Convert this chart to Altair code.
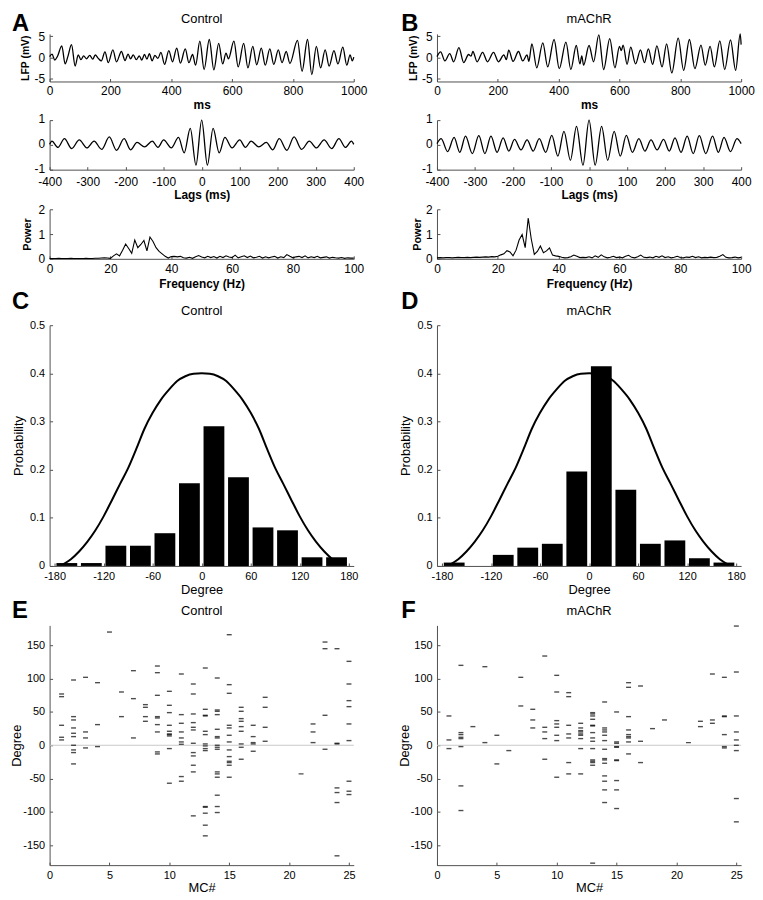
import altair as alt
import pandas as pd

FONT = "Liberation Sans"
AXC = "#505050"

# ---------------- data ----------------
# LFP traces (extrema, ms / mV)
ctrl_lfp_ms = [0, 8, 17, 26, 40, 51, 60, 72, 84, 94,
               103, 112, 121, 132, 142, 150, 160, 170, 182, 193,
               208, 220, 236, 248, 258, 266, 275, 285, 295, 303,
               312, 320, 328, 337, 346, 356, 366, 378, 392, 404,
               418, 430, 446, 458, 470, 480, 494, 508, 525, 540,
               556, 569, 580, 588, 606, 620, 638, 652, 668, 681,
               696, 709, 724, 737, 752, 764, 778, 790, 815, 830,
               848, 862, 877, 891, 906, 919, 935, 948, 964, 977,
               988, 995, 1000]
ctrl_lfp_mv = [0.2, 0.8, -0.6, 0.3, 2.7, -1.5, 0.2, 3.0, -2.0, 0.6,
               -0.5, 0.4, -0.3, 0.5, -0.4, 0.6, -0.2, -0.8, 1.3, -1.2,
               1.8, -1.0, 1.4, -0.7, 0.8, -0.3, 0.6, -0.5, 0.4, -0.6,
               0.7, -0.4, 0.9, -0.8, 0.5, -0.2, 1.2, -1.6, 1.6, -1.0,
               2.2, -1.3, 2.0, -1.2, 0.7, -1.8, 3.8, -2.8, 4.2, -2.9,
               3.3, -1.5, 1.0, -0.3, 3.8, -2.2, 3.3, -2.4, 2.6, -1.7,
               2.2, -1.8, 2.0, -1.6, 1.8, -1.2, 1.4, -1.4, 4.0, -3.2,
               4.2, -4.0, 2.6, -2.4, 1.8, -2.0, 1.6, -1.5, 2.4, -1.8,
               0.6, -0.8, 0.1]

machr_lfp_ms = [0, 12, 26, 42, 55, 72, 88, 104, 112, 118,
                132, 150, 166, 186, 202, 220, 228, 236, 250, 268,
                282, 296, 302, 312, 328, 348, 364, 385, 402, 424,
                440, 458, 470, 476, 482, 500, 515, 532, 548, 568,
                585, 600, 606, 612, 625, 637, 653, 669, 682, 695,
                709, 723, 740, 755, 772, 793, 811, 830, 848, 868,
                882, 898, 912, 930, 946, 965, 982, 997, 1000]
machr_lfp_mv = [0.2, 1.3, -0.8, 0.9, -1.0, 2.3, -1.2, 0.7, 0.3, 1.4,
                -1.0, 1.2, -1.0, 1.2, -1.0, 0.6, -0.5, 1.7, -0.9, 1.4,
                -0.8, 0.6, -0.9, 3.2, -2.4, 3.4, -2.2, 4.2, -2.6, 3.6,
                -2.8, 2.8, -1.5, 0.4, -1.8, 2.8, -1.0, 5.3, -2.8, 4.4,
                -2.4, 2.6, 1.6, 2.9, -1.6, 2.4, -1.5, 1.8, -1.2, 2.0,
                -1.6, 2.7, -2.2, 3.2, -3.6, 4.5, -3.0, 4.2, -2.6, 2.9,
                -1.8, 2.6, -2.2, 3.9, -2.8, 4.1, -3.0, 5.5, 3.0]

# autocorrelation, positive lags (the function is symmetric)
ctrl_lag_ms = [0, 15, 30, 46, 61, 80, 100, 115, 130, 150, 170, 187, 204,
               224, 243, 263, 283, 302, 322, 342, 361, 378, 394, 400]
ctrl_acf = [1.0, -0.82, 0.67, -0.32, 0.3, -0.12, 0.2, -0.1, 0.15, -0.08,
            0.1, -0.2, 0.25, -0.22, 0.32, -0.18, 0.15, -0.12, 0.2, -0.15,
            0.25, -0.1, 0.15, 0.02]
machr_lag_ms = [0, 16, 33, 49, 66, 82, 98, 114, 131, 147, 163, 179, 196,
                211, 226, 242, 258, 274, 290, 307, 325, 340, 355, 372, 389, 400]
machr_acf = [1.0, -0.82, 0.75, -0.62, 0.55, -0.45, 0.38, -0.3, 0.25, -0.25,
             0.2, -0.2, 0.22, -0.25, 0.28, -0.3, 0.35, -0.35, 0.37, -0.35,
             0.35, -0.3, 0.3, -0.27, 0.25, 0.05]

# power spectra, 0..100 Hz
freq_hz = list(range(0, 101))
ctrl_power = [0.01, 0.01, 0.01, 0.02, 0.01, 0.01, 0.01, 0.02, 0.01, 0.01,
              0.01, 0.01, 0.02, 0.01, 0.01, 0.02, 0.02, 0.03, 0.04, 0.03,
              0.02, 0.12, 0.2, 0.12, 0.35, 0.6, 0.42, 0.22, 0.76, 0.45,
              0.58, 0.74, 0.32, 0.88, 0.7, 0.45, 0.3, 0.2, 0.1, 0.03,
              0.09, 0.1, 0.08, 0.1, 0.04, 0.03, 0.06, 0.02, 0.08, 0.13,
              0.07, 0.04, 0.1, 0.05, 0.09, 0.03, 0.1, 0.05, 0.12, 0.07,
              0.05, 0.15, 0.04, 0.08, 0.12, 0.05, 0.11, 0.04, 0.06, 0.1,
              0.03, 0.08, 0.04, 0.07, 0.1, 0.03, 0.08, 0.05, 0.17, 0.1,
              0.04, 0.08, 0.1, 0.05, 0.12, 0.04, 0.08, 0.05, 0.1, 0.04,
              0.06, 0.08, 0.03, 0.06, 0.04, 0.03, 0.05, 0.02, 0.04, 0.03,
              0.03]
machr_power = [0.04, 0.05, 0.04, 0.05, 0.05, 0.04, 0.05, 0.06, 0.05, 0.05,
               0.06, 0.05, 0.06, 0.07, 0.06, 0.07, 0.08, 0.07, 0.09, 0.08,
               0.1, 0.16, 0.2, 0.33, 0.28, 0.12, 0.35, 0.76, 0.98, 0.45,
               1.65, 0.8, 0.18, 0.3, 0.52, 0.25, 0.32, 0.44, 0.15, 0.12,
               0.1, 0.06, 0.04, 0.05, 0.08, 0.15, 0.1, 0.05, 0.06, 0.05,
               0.08, 0.04, 0.12, 0.06, 0.16, 0.08, 0.04, 0.06, 0.1, 0.05,
               0.07, 0.04, 0.1, 0.14, 0.06, 0.04, 0.08, 0.15, 0.06, 0.05,
               0.07, 0.04, 0.1, 0.06, 0.12, 0.05, 0.08, 0.04, 0.06, 0.1,
               0.05, 0.04, 0.07, 0.06, 0.1, 0.05, 0.08, 0.04, 0.06, 0.05,
               0.07, 0.05, 0.06, 0.1, 0.17, 0.06, 0.04, 0.05, 0.07, 0.04,
               0.06]

# phase histograms
bin_center_deg = [-165, -135, -105, -75, -45, -15, 15, 45, 75, 105, 135, 165]
ctrl_prob = [0.006, 0.006, 0.042, 0.042, 0.068, 0.172, 0.290, 0.184, 0.080, 0.074, 0.018, 0.018]
machr_prob = [0.007, 0.0, 0.023, 0.038, 0.046, 0.196, 0.415, 0.158, 0.046, 0.053, 0.016, 0.007]

curve_deg = [-170, -160, -150, -140, -130, -120, -110, -100, -90, -80, -70, -60,
             -50, -40, -30, -20, -10, 0, 10, 20, 30, 40, 50, 60, 70, 80, 90,
             100, 110, 120, 130, 140, 150, 160, 170]
curve_prob = [0.003, 0.014, 0.03, 0.05, 0.074, 0.103, 0.136, 0.17, 0.203, 0.243,
              0.285, 0.318, 0.345, 0.366, 0.384, 0.394, 0.399, 0.4, 0.399, 0.394,
              0.384, 0.366, 0.345, 0.318, 0.285, 0.243, 0.203, 0.17, 0.136, 0.103,
              0.074, 0.05, 0.03, 0.014, 0.003]

# preferred phase of each MC (degree)
ctrl_phase = {
    1: [77, 73, 30, 12, 8],
    2: [98, 43, 38, 26, 18, 13, 0, -7, -11, -28],
    3: [102, 20, 11, -4],
    4: [94, 31, -2],
    5: [170],
    6: [80, 43],
    7: [112, 70, 11],
    8: [61, 57, 43, 36],
    9: [119, 109, 75, 43, 41, 31, 20, -10, -13],
    10: [81, 60, 49, 30, 21, 17, 16, 14, -5, -57],
    11: [107, 46, 33, 20, 11, 5, 1.5, -47, -54],
    12: [92, 77, 47, 34, 27, 23, 3, -11, -16, -30, -40, -106],
    13: [116, 54, 45, 44, 21, 16, 2, -1, -5, -8, -92, -93, -102, -120, -136],
    14: [101, 53, 51, 46, 24, 13, 11, 0, -3, -6, -40, -43, -48, -75, -92, -101],
    15: [166, 91, 78, 30, 26, 15, 5, -7, -17, -24, -26, -30, -48],
    16: [57, 51, 40, 36, 28, 21, 2, -3, -21],
    17: [30, 13, 4, 2, -9],
    18: [72, 57, 27, 6],
    21: [-43],
    22: [32, 20, 4],
    23: [155, 145, 45, -6],
    24: [145, 3, 2, -64, -71, -86, -166],
    25: [126, 92, 67, 58, 32, 7, -54, -69, -74],
}
machr_phase = {
    1: [44, 8, -5],
    2: [120, 19, 16, 12, 10, -2, -61, -98],
    3: [28],
    4: [118, 4],
    5: [15, -28],
    6: [-8],
    7: [102, 59],
    8: [54, 38, 26],
    9: [134, 27, 20, 10, -21],
    10: [105, 80, 37, 32, 27, 15, 7, -48],
    11: [79, 73, 30, 17, 11, -26, -43],
    12: [33, 26, 22, 20, 17, 15, 10, -5, -43],
    13: [49, 47, 44, 39, 30, 29, 19, 11, 6, -5, -22, -24, -26, -30, -177],
    14: [65, 26, 23, 20, 15, 7, -6, -20, -22, -27, -46, -54, -67, -86],
    15: [50, 5, 3, -2, -3, -22, -23, -53, -67, -95],
    16: [94, 87, 43, 23, 16, 13, 11, 5, -13],
    17: [89, 6, -26],
    18: [25],
    19: [38],
    21: [4],
    22: [36, 28],
    23: [107, 38, 33],
    24: [102, 44, 43, 16, -2, -4],
    25: [179, 110, 44, 20, 8, 0, -8, -80, -115],
}

# ---------------- layout ----------------
W = 307
H_LFP, H_ACF, H_POW, H_HIST, H_PH = 48, 50, 50, 243, 242
GAPS = [39, 40, 67, 60]
COLSPACE = 84

ONE = pd.DataFrame({"k": [0]})
NUM = "'' + datum.value"


def axis(kind, values, title, tpos, length, lab=11, tit=13, bold=False, expr=NUM,
         pad=None, loff=0):
    kw = dict(values=values, grid=False, domainColor=AXC, domainWidth=1,
              tickColor=AXC, tickWidth=1, tickSize={"expr": "-3"},
              labelFont=FONT, labelFontSize=lab, labelColor="black",
              labelFlush=False, labelOverlap=False, labelExpr=expr,
              titleFont=FONT, titleFontSize=tit,
              titleFontWeight="bold" if bold else "normal", titleColor="black")
    if pad is None:
        pad = 7.5 if kind == "x" else 8
    kw["labelPadding"] = pad
    if loff:
        kw["labelOffset"] = loff
    if title:
        kw.update(title=title, titleAlign="center", titleBaseline="middle")
        if kind == "x":
            kw.update(titleX=length / 2, titleY=tpos, titleAngle=0)
        else:
            kw.update(titleX=tpos, titleY=length / 2, titleAngle=270)
    else:
        kw["title"] = None
    return alt.Axis(**kw)


def text(t, x, y, size, bold=False, align="center", baseline="middle"):
    return alt.Chart(ONE).mark_text(
        text=t, font=FONT, fontSize=size, fontWeight="bold" if bold else "normal",
        align=align, baseline=baseline, color="black"
    ).encode(x=alt.value(x), y=alt.value(y))


def decorate(base, title, letter, letter_x, letter_top, title_y=-14):
    layers = [base]
    if title:
        layers.append(text(title, W / 2, title_y, 13))
    if letter:
        layers.append(text(letter, letter_x, letter_top - 1.8, 24, bold=True,
                           align="left", baseline="top"))
    return alt.layer(*layers)


def lfp_panel(ms, mv, title, letter, letter_x, ytx):
    df = pd.DataFrame({"t": ms, "v": mv})
    line = alt.Chart(df).mark_line(color="black", strokeWidth=1.3, interpolate="monotone").encode(
        x=alt.X("t:Q", scale=alt.Scale(domain=[0, 1000], nice=False, zero=False),
                axis=axis("x", [0, 200, 400, 600, 800, 1000], "ms", 23.5, W, lab=12, tit=12, bold=True)),
        y=alt.Y("v:Q", scale=alt.Scale(domain=[-5.6, 5.5], nice=False, zero=False),
                axis=axis("y", [-5, 0, 5], "LFP (mV)", ytx, H_LFP, lab=12, tit=10.5, bold=True)),
    )
    return decorate(line, title, letter, letter_x, -20, title_y=-15).properties(width=W, height=H_LFP)


def mirror(lags, vals):
    return [-l for l in lags[:0:-1]] + lags, vals[:0:-1] + vals


def acf_panel(lags, vals):
    L, V = mirror(lags, vals)
    df = pd.DataFrame({"lag": L, "r": V})
    line = alt.Chart(df).mark_line(color="black", strokeWidth=1.3, interpolate="monotone").encode(
        x=alt.X("lag:Q", scale=alt.Scale(domain=[-400, 400], nice=False, zero=False),
                axis=axis("x", list(range(-400, 401, 100)), "Lags (ms)", 25, W, lab=12, tit=12,
                          bold=True, pad=9.5)),
        y=alt.Y("r:Q", scale=alt.Scale(domain=[-1, 1], nice=False, zero=False),
                axis=axis("y", [-1, 0, 1], None, 0, H_ACF, lab=12, loff=-1.5)),
    )
    return line.properties(width=W, height=H_ACF)


def power_panel(p, ytx):
    df = pd.DataFrame({"f": freq_hz, "p": p})
    line = alt.Chart(df).mark_line(color="black", strokeWidth=1.1).encode(
        x=alt.X("f:Q", scale=alt.Scale(domain=[0, 100], nice=False, zero=False),
                axis=axis("x", [0, 20, 40, 60, 80, 100], "Frequency (Hz)", 25, W, lab=12, tit=12, bold=True)),
        y=alt.Y("p:Q", scale=alt.Scale(domain=[0, 2], nice=False, zero=False),
                axis=axis("y", [0, 1, 2], "Power", ytx, H_POW, lab=12, tit=11, bold=True)),
    )
    return line.properties(width=W, height=H_POW)


def hist_panel(prob, title, letter, letter_x):
    df = pd.DataFrame({"deg": bin_center_deg, "p": prob})
    cdf = pd.DataFrame({"deg": curve_deg, "p": curve_prob})
    X = alt.X("deg:Q", scale=alt.Scale(domain=[-180, 180], nice=False, zero=False),
              axis=axis("x", list(range(-180, 181, 60)), "Degree", 24, W))
    Y = alt.Y("p:Q", scale=alt.Scale(domain=[0, 0.5], nice=False, zero=False),
              axis=axis("y", [0, 0.1, 0.2, 0.3, 0.4, 0.5], "Probability", -31.5, H_HIST))
    bars = alt.Chart(df).mark_bar(color="black", size=21).encode(x=X, y=Y)
    curve = alt.Chart(cdf).mark_line(color="black", strokeWidth=2, interpolate="monotone").encode(x=X, y=Y)
    return decorate(alt.layer(bars, curve), title, letter, letter_x, -34).properties(width=W, height=H_HIST)


def phase_panel(phase, title, letter, letter_x):
    rows = [(mc, d) for mc, ds in phase.items() for d in ds]
    df = pd.DataFrame(rows, columns=["mc", "deg"])
    X = alt.X("mc:Q", scale=alt.Scale(domain=[0, 25.4], nice=False, zero=False),
              axis=axis("x", [0, 5, 10, 15, 20, 25], "MC#", 23, W))
    Y = alt.Y("deg:Q", scale=alt.Scale(domain=[-180, 180], nice=False, zero=False),
              axis=axis("y", [-150, -100, -50, 0, 50, 100, 150], "Degree", -33, H_PH))
    ticks = alt.Chart(df).mark_tick(orient="horizontal", size=5, thickness=1.4, color="black").encode(x=X, y=Y)
    zero = alt.Chart(ONE).mark_rule(color="#c8c8c8", strokeWidth=1).encode(y=alt.datum(0))
    return decorate(alt.layer(zero, ticks), title, letter, letter_x, -25).properties(width=W, height=H_PH)


def spacer(h):
    return alt.Chart(ONE).mark_point(opacity=0).encode(
        x=alt.value(0), y=alt.value(0)).properties(width=20, height=h)


cells = [
    lfp_panel(ctrl_lfp_ms, ctrl_lfp_mv, "Control", "A", -38, -24),
    lfp_panel(machr_lfp_ms, machr_lfp_mv, "mAChR", "B", -36, -24),
    spacer(GAPS[0]), spacer(GAPS[0]),
    acf_panel(ctrl_lag_ms, ctrl_acf),
    acf_panel(machr_lag_ms, machr_acf),
    spacer(GAPS[1]), spacer(GAPS[1]),
    power_panel(ctrl_power, -22),
    power_panel(machr_power, -20),
    spacer(GAPS[2]), spacer(GAPS[2]),
    hist_panel(ctrl_prob, "Control", "C", -38),
    hist_panel(machr_prob, "mAChR", "D", -36),
    spacer(GAPS[3]), spacer(GAPS[3]),
    phase_panel(ctrl_phase, "Control", "E", -38),
    phase_panel(machr_phase, "mAChR", "F", -36),
]

chart = alt.concat(
    *cells, columns=2, spacing={"row": 0, "column": COLSPACE}, align="each", bounds="flush"
).properties(padding={"left": 3, "top": 0, "right": 0, "bottom": 0},
             background="white").configure_view(strokeWidth=0)

chart.save("out.html", embed_options={"renderer": "svg", "actions": False})
